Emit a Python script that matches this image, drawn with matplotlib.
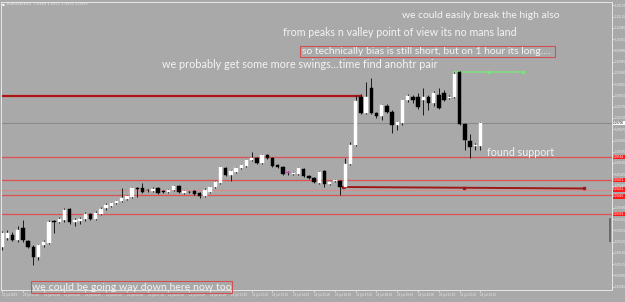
import matplotlib
matplotlib.use("Agg")
import matplotlib.pyplot as plt
import matplotlib.transforms as mtransforms
from matplotlib.patches import Rectangle
import numpy as np

# EURUSD M15 candles
opens = [1.09204, 1.09240, 1.09252, 1.09232, 1.09280, 1.09228, 1.09204, 1.09164, 1.09212, 1.09220,
         1.09308, 1.09304, 1.09312, 1.09356, 1.09304, 1.09308, 1.09316, 1.09336, 1.09316, 1.09336,
         1.09360, 1.09368, 1.09380, 1.09388, 1.09396, 1.09404, 1.09440, 1.09440, 1.09432, 1.09428,
         1.09440, 1.09428, 1.09424, 1.09432, 1.09448, 1.09420, 1.09424, 1.09428, 1.09420, 1.09408,
         1.09424, 1.09444, 1.09460, 1.09520, 1.09492, 1.09504, 1.09520, 1.09528, 1.09552, 1.09560,
         1.09540, 1.09572, 1.09560, 1.09532, 1.09524, 1.09504, 1.09494, 1.09496, 1.09516, 1.09488,
         1.09480, 1.09460, 1.09508, 1.09456, 1.09468, 1.09468, 1.09444, 1.09536, 1.09612, 1.09804,
         1.09740, 1.09840, 1.09740, 1.09728, 1.09768, 1.09744, 1.09692, 1.09700, 1.09792, 1.09804,
         1.09804, 1.09792, 1.09804, 1.09780, 1.09812, 1.09820, 1.09800, 1.09804, 1.09904, 1.09696,
         1.09628, 1.09608, 1.09608]
highs = [1.09268, 1.09272, 1.09264, 1.09288, 1.09312, 1.09232, 1.09212, 1.09216, 1.09232, 1.09312,
         1.09310, 1.09324, 1.09360, 1.09360, 1.09320, 1.09324, 1.09344, 1.09340, 1.09348, 1.09364,
         1.09380, 1.09384, 1.09392, 1.09440, 1.09412, 1.09444, 1.09442, 1.09460, 1.09436, 1.09444,
         1.09444, 1.09432, 1.09436, 1.09452, 1.09452, 1.09432, 1.09428, 1.09432, 1.09424, 1.09440,
         1.09448, 1.09468, 1.09528, 1.09524, 1.09512, 1.09524, 1.09536, 1.09556, 1.09584, 1.09564,
         1.09576, 1.09576, 1.09564, 1.09536, 1.09528, 1.09508, 1.09504, 1.09524, 1.09520, 1.09492,
         1.09484, 1.09508, 1.09512, 1.09468, 1.09476, 1.09472, 1.09560, 1.09624, 1.09812, 1.09816,
         1.09864, 1.09880, 1.09744, 1.09776, 1.09776, 1.09752, 1.09708, 1.09796, 1.09816, 1.09812,
         1.09820, 1.09840, 1.09812, 1.09828, 1.09840, 1.09832, 1.09812, 1.09904, 1.09908, 1.09700,
         1.09656, 1.09620, 1.09704]
lows = [1.09192, 1.09232, 1.09228, 1.09224, 1.09224, 1.09200, 1.09132, 1.09152, 1.09204, 1.09216,
        1.09260, 1.09300, 1.09304, 1.09296, 1.09288, 1.09296, 1.09308, 1.09312, 1.09312, 1.09332,
        1.09352, 1.09364, 1.09376, 1.09384, 1.09392, 1.09400, 1.09404, 1.09420, 1.09424, 1.09424,
        1.09416, 1.09420, 1.09420, 1.09428, 1.09420, 1.09416, 1.09420, 1.09412, 1.09400, 1.09404,
        1.09420, 1.09440, 1.09456, 1.09488, 1.09468, 1.09500, 1.09516, 1.09524, 1.09548, 1.09536,
        1.09536, 1.09556, 1.09524, 1.09520, 1.09492, 1.09492, 1.09492, 1.09492, 1.09484, 1.09476,
        1.09460, 1.09456, 1.09444, 1.09452, 1.09464, 1.09412, 1.09440, 1.09532, 1.09608, 1.09736,
        1.09736, 1.09736, 1.09720, 1.09712, 1.09740, 1.09660, 1.09672, 1.09692, 1.09784, 1.09780,
        1.09756, 1.09732, 1.09752, 1.09768, 1.09756, 1.09788, 1.09796, 1.09800, 1.09692, 1.09592,
        1.09560, 1.09592, 1.09592]
closes = [1.09260, 1.09260, 1.09232, 1.09272, 1.09232, 1.09204, 1.09164, 1.09212, 1.09224, 1.09304,
          1.09302, 1.09316, 1.09352, 1.09304, 1.09312, 1.09316, 1.09336, 1.09316, 1.09340, 1.09356,
          1.09372, 1.09380, 1.09388, 1.09400, 1.09408, 1.09440, 1.09436, 1.09424, 1.09430, 1.09436,
          1.09420, 1.09422, 1.09432, 1.09448, 1.09424, 1.09428, 1.09422, 1.09416, 1.09408, 1.09432,
          1.09444, 1.09464, 1.09524, 1.09492, 1.09508, 1.09520, 1.09532, 1.09552, 1.09560, 1.09540,
          1.09572, 1.09560, 1.09528, 1.09524, 1.09496, 1.09500, 1.09498, 1.09520, 1.09488, 1.09480,
          1.09464, 1.09504, 1.09456, 1.09464, 1.09472, 1.09444, 1.09536, 1.09612, 1.09788, 1.09740,
          1.09804, 1.09740, 1.09728, 1.09772, 1.09744, 1.09692, 1.09704, 1.09792, 1.09808, 1.09792,
          1.09764, 1.09804, 1.09780, 1.09820, 1.09760, 1.09792, 1.09804, 1.09896, 1.09696, 1.09632,
          1.09604, 1.09612, 1.09700]
marked_bar = 55  # the small magenta candle

# horizontal levels (price) drawn over the full width
current_price = 1.09700
red_levels = [1.09564, 1.09472, 1.09410, 1.09336]
pink_level = 1.09432

# trend lines: (bar start, price start, bar end, price end)
resistance_line = (-0.5, 1.09808, 68.8, 1.09808)
support_line = (65.6, 1.09444, 112.0, 1.09438)
high_line = (87.0, 1.09904, 100.2, 1.09904)

price_ticks = [1.10170 - 0.00045 * k for k in range(26)]
time_ticks = list(range(0, 93, 4))
time_labels = ["21 Jul 2015"] + ["21 Jul %02d:00" % h for h in range(1, 24)]
header = "EURUSD,M15  1.0969 1.0971 1.0970 1.0970"

notes = [
    ("we could easily break the high also", 402, 15, 159),
    ("from peaks n valley point of view its no mans land", 283, 33, 233),
    ("so technically bias is still short, but on 1 hour its long....", 302, 51, 251),
    ("we probably get some more swings...time find anohtr pair", 162, 65, 275),
    ("found support", 487, 153, 67),
    ("we could be going way down here now too", 32, 287, 199),
]
boxes = [(300, 46, 255, 11), (31, 281, 201, 12)]

BG = "#A9A9A9"
W, H = 625, 302
fig = plt.figure(figsize=(W / 100, H / 100), dpi=100, facecolor=BG)
ax = fig.add_axes([1 / W, 1 - 290 / H, 611 / W, 288 / H], facecolor=BG)

x = np.arange(len(opens))
o = np.array(opens); c = np.array(closes)
hi = np.array(highs); lo = np.array(lows)

# wicks then bodies
ax.vlines(x, lo, hi, color="#1a1a1a", lw=0.7, zorder=3)
bull = c >= o
body_bottom = np.minimum(o, c)
body_h = np.maximum(np.abs(c - o), 0.000012)
cols = np.where(bull, "white", "black").astype(object)
cols[marked_bar] = "#d040c8"
ax.bar(x, body_h, bottom=body_bottom, width=0.66, color=list(cols),
       edgecolor=list(cols), lw=0.3, zorder=4)

# level lines
ax.axhline(current_price, color="#8a8a8a", lw=0.8, zorder=1)
for lv in red_levels:
    ax.axhline(lv, color="#e05050", lw=0.9, zorder=1)
ax.axhline(pink_level, color="#d88a8a", lw=0.9, zorder=1)

x0, y0, x1, y1 = resistance_line
ax.plot([x0, x1], [y0, y1], color="#b01515", lw=1.6, zorder=2)
ax.plot([x1], [y1], "s", color="#b01515", ms=1.6, zorder=2)
x0, y0, x1, y1 = support_line
ax.plot([x0, x1], [y0, y1], color="#a01818", lw=1.4, zorder=2)
ax.plot([x0, (x0 + x1) / 2, x1], [y0, (y0 + y1) / 2, y1], "s", color="#a01818", ms=1.6, zorder=2)
x0, y0, x1, y1 = high_line
ax.plot([x0, x1], [y0, y1], color="#7de27d", lw=1.1, zorder=2)
ax.plot([x0, (x0 + x1) / 2, x1], [y0, y1, y1], "s", color="#7de27d", ms=1.4, zorder=2)

ax.set_xlim(-0.2, 117.3)
ax.set_ylim(1.09032, 1.10184)

for s in ax.spines.values():
    s.set_color("#e6e6e6")
    s.set_linewidth(0.7)

# the price tags cover the axis labels right next to them, as in the terminal
tags = [current_price] + red_levels + [pink_level]
ax.yaxis.tick_right()
ax.set_yticks(price_ticks)
ax.set_yticklabels(["" if min(abs(p - t) for t in tags) < 0.00012 else "%.5f" % p
                    for p in price_ticks])
ax.set_xticks(time_ticks)
ax.set_xticklabels(time_labels, ha="left")
ax.tick_params(axis="both", colors="#eeeeee", labelsize=1.95, length=1.5, width=0.5, pad=0.6)

# price tags on the right axis (the two close ones are nudged apart a little)
tr = mtransforms.blended_transform_factory(ax.transAxes, ax.transData)
ax.text(1.002, current_price, "%.5f" % current_price, transform=tr, fontsize=1.95, color="black",
        va="center", ha="left", bbox=dict(boxstyle="square,pad=0.15", fc="white", ec="none"))
tag_offsets = {pink_level: 0.00003, 1.09410: -0.00003}
for lv in red_levels + [pink_level]:
    ax.text(1.002, lv + tag_offsets.get(lv, 0), "%.5f" % lv, transform=tr, fontsize=1.95,
            color="white", va="center", ha="left",
            bbox=dict(boxstyle="square,pad=0.15", fc="#ff1a1a", ec="none"))

# scroll marker
fig.patches.append(Rectangle((609 / W, 1 - 242 / H), 2 / W, 24 / H, transform=fig.transFigure,
                             fc="#6a6a6a", ec="none"))

fig.text(2 / W, 1 - 4 / H, "\u25aa", color="white", fontsize=3, va="center")
fig.text(7 / W, 1 - 4 / H, header, color="#f0f0f0", fontsize=2.6, va="center")

# annotations, scaled to the width they take in the screenshot
renderer = fig.canvas.get_renderer()
for txt, lx, cy, wpx in notes:
    t = fig.text(lx / W, 1 - cy / H, txt, color="#f4f4f4", fontsize=8, family="Lato",
                 va="center", ha="left")
    w = t.get_window_extent(renderer).width
    t.set_fontsize(8 * wpx / w)

for bx, by, bw, bh in boxes:
    fig.patches.append(Rectangle((bx / W, 1 - (by + bh) / H), bw / W, bh / H,
                                 transform=fig.transFigure, fc="none", ec="#d45050", lw=0.8))

fig.savefig("out.png", dpi=100, facecolor=BG)
